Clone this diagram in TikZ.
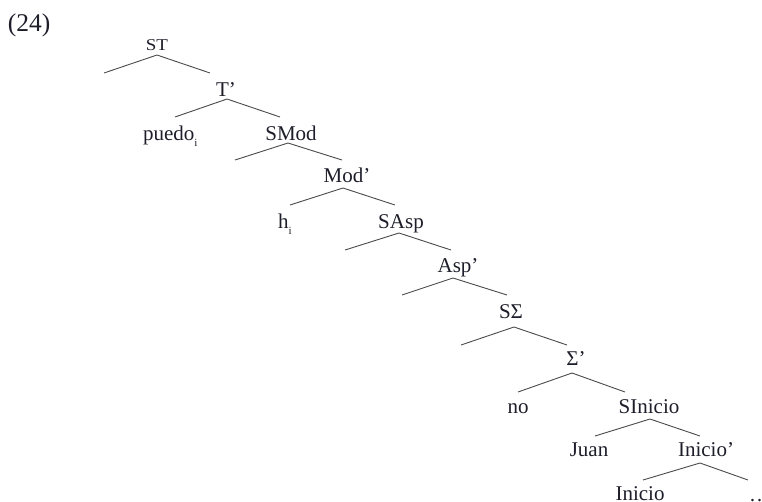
\documentclass[tikz,border=0pt]{standalone}
\usepackage{fontspec}
\setmainfont{Liberation Serif}
\definecolor{ink}{HTML}{1E1E2A}
\definecolor{branchgray}{HTML}{4A4A4A}
\newcommand{\sub}[1]{\raisebox{-0.33em}{\fontsize{11}{11}\selectfont #1}}
\begin{document}
\begin{tikzpicture}[x=1pt,y=-1pt,
  lab/.style={inner sep=0pt,outer sep=0pt,anchor=base,text=ink,font=\fontsize{21}{21}\selectfont},
  labw/.style={lab,anchor=base west},
  branch/.style={draw=branchgray,line width=0.9pt}]
\useasboundingbox (0,0) rectangle (762,501);

% example number
\node[labw,font=\fontsize{25.5}{25.5}\selectfont] (num) at (8,31) {(24)};

% labels (x = centre, y = baseline)
\node[lab,font=\fontsize{16.5}{16.5}\selectfont] (ST) at (157,50) {\scalebox{1.15}[1]{ST}};
\node[lab] (Tb) at (226,96) {T’};
\node[labw] (puedo) at (143,140) {puedo\sub{i}};
\node[lab] (SMod) at (291,140) {SMod};
\node[lab] (Modb) at (347,182) {Mod’};
\node[labw] (h) at (278,228) {h\sub{i}};
\node[lab] (SAsp) at (401,228) {SAsp};
\node[lab] (Aspb) at (458,272) {Asp’};
\node[lab] (SSig) at (511,318) {SΣ};
\node[lab] (Sigb) at (576,365) {Σ’};
\node[lab] (no) at (518,413) {no};
\node[lab] (SIni) at (649,413) {SInicio};
\node[lab] (Juan) at (589,456) {Juan};
\node[lab] (Inib) at (706,456) {Inicio’};
\node[lab] (Ini) at (640,500) {Inicio};
\node[labw] (dots) at (749,501) {…};

% branch points: apex under each mother, left and right ends
\coordinate (ST-a) at (157,55);   \coordinate (ST-l) at (104,73);   \coordinate (ST-r) at (210,73);
\coordinate (Tb-a) at (227,99);   \coordinate (Tb-l) at (175,117);  \coordinate (Tb-r) at (280,117);
\coordinate (SMod-a) at (288,143); \coordinate (SMod-l) at (235,160); \coordinate (SMod-r) at (342,160);
\coordinate (Modb-a) at (343,188); \coordinate (Modb-l) at (290,205); \coordinate (Modb-r) at (395,205);
\coordinate (SAsp-a) at (399,233); \coordinate (SAsp-l) at (345,250); \coordinate (SAsp-r) at (451,250);
\coordinate (Aspb-a) at (453,278); \coordinate (Aspb-l) at (402,295); \coordinate (Aspb-r) at (507,295);
\coordinate (SSig-a) at (514,327); \coordinate (SSig-l) at (461,345); \coordinate (SSig-r) at (567,345);
\coordinate (Sigb-a) at (572,373); \coordinate (Sigb-l) at (518,392); \coordinate (Sigb-r) at (625,392);
\coordinate (SIni-a) at (650,419); \coordinate (SIni-l) at (595,436); \coordinate (SIni-r) at (700,436);
\coordinate (Inib-a) at (700,463); \coordinate (Inib-l) at (643,480); \coordinate (Inib-r) at (748,480);

\foreach \m in {ST,Tb,SMod,Modb,SAsp,Aspb,SSig,Sigb,SIni,Inib}
  \draw[branch] (\m-l) -- (\m-a) -- (\m-r);
\end{tikzpicture}
\end{document}
